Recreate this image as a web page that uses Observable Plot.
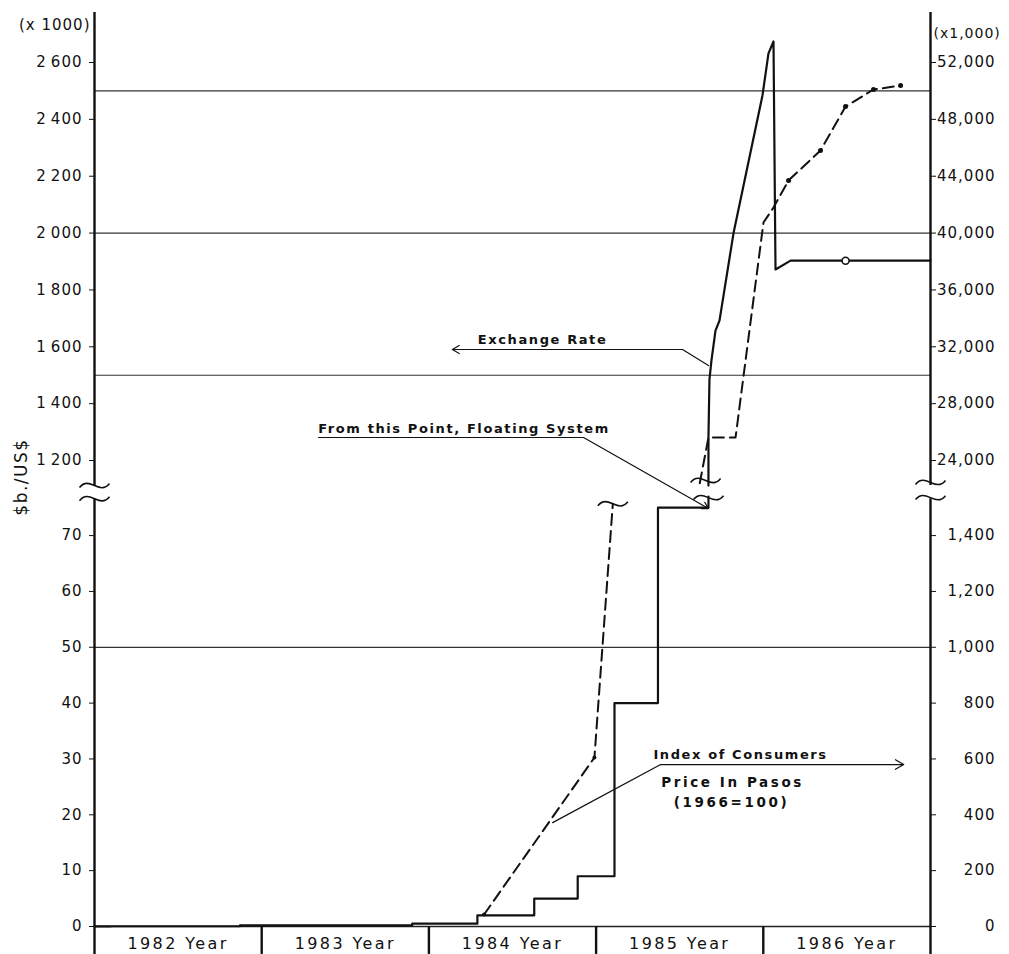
<!DOCTYPE html>
<html><head><meta charset="utf-8">
<script src="https://cdn.jsdelivr.net/npm/d3@7"></script>
<script src="https://cdn.jsdelivr.net/npm/@observablehq/plot@0.6"></script>
<style>
body{margin:0;background:#fff;}
#chart{position:relative;width:1009px;height:954px;font-family:"DejaVu Sans",sans-serif;color:#111;}
#chart svg{position:absolute;left:0;overflow:visible;}
#chart svg text{letter-spacing:1px;}
#chart svg g[font-size="13"] text{letter-spacing:1.6px;}
#chart svg g[font-size="13.5"] text{letter-spacing:2.6px;}
#chart svg g[font-size="16"] text{letter-spacing:2.4px;}
#ylabel{position:absolute;left:21px;top:477px;transform:translate(-50%,-50%) rotate(-90deg);font-size:17px;letter-spacing:1.5px;white-space:nowrap;}
</style></head><body><div id="chart"><div id="ylabel">$b./US$</div></div><script>
// ---- categories ----
const yearStarts = [1982, 1983, 1984, 1985, 1986];
const yearLabels = ["1982 Year", "1983 Year", "1984 Year", "1985 Year", "1986 Year"];

// ---- tick labels ----
const leftUpperTicks = [1200, 1400, 1600, 1800, 2000, 2200, 2400, 2600];      // $b/US$ (x 1000)
const rightUpperTicks = [24000, 28000, 32000, 36000, 40000, 44000, 48000, 52000]; // CPI (x 1,000)
const leftLowerTicks = [0, 10, 20, 30, 40, 50, 60, 70];
const rightLowerTicks = [0, 200, 400, 600, 800, 1000, 1200, 1400];
const upperGrid = [1500, 2000, 2500];
const lowerGrid = [50];

// ---- exchange rate ($b/US$, x 1000) ----
const exLowDates  = [1982.0, 1982.10, 1982.87, 1983.90, 1984.29, 1984.63, 1984.89, 1985.11, 1985.37, 1985.672, 1985.672];
const exLowValues = [0.025, 0.044, 0.2, 0.5, 2, 5, 9, 40, 75, 75, 77];
const exHighDates  = [1985.672, 1985.672, 1985.678, 1985.690, 1985.714, 1985.738, 1985.822, 1985.995, 1986.031, 1986.061, 1986.073, 1986.163, 1987.0];
const exHighValues = [1112, 1281, 1485, 1552, 1657, 1692, 2000, 2484, 2632, 2674, 1872, 1903, 1903];
const exCircleDates = [1986.492];
const exCircleValues = [1903];

// ---- consumer price index (1966=100), right axis units ----
const cpiLowDates  = [1984.33, 1984.99, 1985.10];
const cpiLowValues = [43, 605, 1514];
const cpiHighDates  = [1985.62, 1985.672, 1985.834, 1986.001, 1986.061, 1986.151, 1986.342, 1986.492, 1986.659, 1986.821];
const cpiHighValues = [22400, 25620, 25620, 40740, 41800, 43700, 45810, 48900, 50100, 50380];
const cpiHighMarked = [false, false, false, false, false, true, true, true, true, true];
const cpiFactor = 20; // right axis = 20 x left axis

// ---- axis breaks ----
const upperBreakX = [1982, 1987, 1985.655];
const upperBreakY = [1112, 1123, 1130];
const lowerBreakX = [1982, 1987, 1985.672, 1985.10];
const lowerBreakY = [76.6, 76.8, 76.8, 75.7];

// ---- annotations ----
const upperNotes = ["Exchange Rate", "From this Point, Floating System"];
const upperNoteX = [1984.68, 1984.21];
const upperNoteY = [1626, 1313];
const lowerNotes = ["Index of Consumers", "Price In Pasos", "(1966=100)"];
const lowerNoteX = [1985.864, 1985.816, 1985.81];
const lowerNoteY = [30.8, 25.8, 22.2];
const lowerNoteSize = [13, 13.5, 13.5];
const exLeader = {x: [1985.517, 1985.672], y: [1590.5, 1534], arrowTo: [1984.14, 1590.5]};
const floatUnderline = {x: [1983.34, 1984.925], y: 1281};
const floatArrow = {x1: 1984.925, y1: 1281, x2: 1985.672, y2: 1031};
const cpiArrow = {x1: 1985.386, x2: 1986.84, y: 29.0};
const cpiLeader = {x: [1985.386, 1984.74], y: [29.0, 18.6]};

// ---- helpers ----
const upDomain = [1108.6, 2775.9];
const lowDomain = [0, 77.0];
const fmtLeft = d => d3.format(",")(d).replace(",", "\u2009");
const fmtRight = d => d3.format(",")(d);
const tilde = {draw(ctx, size) {
  const r = Math.sqrt(size / Math.PI), a = r * 0.22;
  ctx.moveTo(-r, a * 0.6);
  ctx.bezierCurveTo(-r / 3, -a * 3.2, r / 3, a * 3.2, r, -a * 0.6);
}};
const idx = a => a.map((_, i) => i);

const common = {
  width: 1009, marginLeft: 94, marginRight: 79,
  x: {domain: [1982, 1987], axis: null},
  style: {background: "transparent", overflow: "visible", fontFamily: "DejaVu Sans, sans-serif", fontSize: "15px", color: "#111"}
};

// ---------- lower panel ----------
const low = Plot.plot({
  ...common,
  height: 458, marginTop: 0, marginBottom: 28,
  y: {domain: lowDomain, axis: null},
  marks: [
    Plot.ruleY(lowerGrid, {x1: 1982, x2: 1987, stroke: "#333", strokeWidth: 1.2}),
    Plot.ruleY([0], {x1: 1982, x2: 1987, stroke: "#222", strokeWidth: 1.5}),
    Plot.ruleX([1982, 1987], {y1: -5, y2: lowerBreakY[0], strokeWidth: 2.4, stroke: "#111"}),
    Plot.ruleX(yearStarts.slice(1), {y1: -5, y2: 0, strokeWidth: 2.4, stroke: "#111"}),
    Plot.axisY(leftLowerTicks, {anchor: "left", label: null, tickSize: 5, tickPadding: 7, tickFormat: fmtLeft, fontSize: 15}),
    Plot.axisY(rightLowerTicks.map(d => d / cpiFactor), {anchor: "right", label: null, tickSize: 5, tickFormat: () => ""}),
    Plot.text(rightLowerTicks, {x: 1987, y: d => d / cpiFactor, text: fmtRight, textAnchor: "end", dx: 65, fontSize: 15}),
    Plot.text(idx(yearStarts), {x: i => yearStarts[i] + 0.5, y: -3.1, text: i => yearLabels[i], fontSize: 16}),
    Plot.line(idx(exLowDates), {x: i => exLowDates[i], y: i => exLowValues[i], curve: "step-after", stroke: "#111", strokeWidth: 2.2}),
    Plot.line(idx(cpiLowDates), {x: i => cpiLowDates[i], y: i => cpiLowValues[i] / cpiFactor, stroke: "#111", strokeWidth: 2, strokeDasharray: "11,6"}),
    Plot.dot(idx(cpiLowDates).slice(0, 2), {x: i => cpiLowDates[i], y: i => cpiLowValues[i] / cpiFactor, r: 2, fill: "#111"}),
    Plot.dot(idx(lowerBreakX), {x: i => lowerBreakX[i], y: i => lowerBreakY[i], symbol: tilde, r: 15, fill: "none", stroke: "#111", strokeWidth: 1.6}),
    Plot.arrow([cpiArrow], {x1: "x1", x2: "x2", y1: "y", y2: "y", stroke: "#111", strokeWidth: 1.2, headLength: 12}),
    Plot.line(idx(cpiLeader.x), {x: i => cpiLeader.x[i], y: i => cpiLeader.y[i], stroke: "#111", strokeWidth: 1.2}),
    Plot.text([0], {x: lowerNoteX[0], y: lowerNoteY[0], text: () => lowerNotes[0], fontSize: lowerNoteSize[0], fontWeight: "bold"}),
    Plot.text([1, 2], {x: i => lowerNoteX[i], y: i => lowerNoteY[i], text: i => lowerNotes[i], fontSize: lowerNoteSize[1], fontWeight: "bold"})
  ]
});
low.style.top = "496px";
document.getElementById("chart").appendChild(low);

// ---------- upper panel ----------
const up = Plot.plot({
  ...common,
  height: 486, marginTop: 12, marginBottom: 0,
  y: {domain: upDomain, axis: null},
  marks: [
    Plot.ruleY(upperGrid, {x1: 1982, x2: 1987, stroke: "#333", strokeWidth: 1.2}),
    Plot.ruleX([1982, 1987], {y1: upperBreakY[0], y2: upDomain[1], strokeWidth: 2.4, stroke: "#111"}),
    Plot.axisY(leftUpperTicks, {anchor: "left", label: null, tickSize: 5, tickPadding: 7, tickFormat: fmtLeft, fontSize: 15}),
    Plot.axisY(rightUpperTicks.map(d => d / cpiFactor), {anchor: "right", label: null, tickSize: 5, tickFormat: () => ""}),
    Plot.text(rightUpperTicks, {x: 1987, y: d => d / cpiFactor, text: fmtRight, textAnchor: "end", dx: 65, fontSize: 15}),
    Plot.text(["(x 1000)"], {x: 1982, y: 2730, text: d => d, textAnchor: "end", dx: -4, fontSize: 15}),
    Plot.text(["(x1,000)"], {x: 1987, y: 2702, text: d => d, textAnchor: "start", dx: 3, fontSize: 14}),
    Plot.line(idx(exHighDates), {x: i => exHighDates[i], y: i => exHighValues[i], stroke: "#111", strokeWidth: 2.2}),
    Plot.dot(idx(exCircleDates), {x: i => exCircleDates[i], y: i => exCircleValues[i], r: 3.5, fill: "white", stroke: "#111", strokeWidth: 1.5}),
    Plot.line(idx(cpiHighDates), {x: i => cpiHighDates[i], y: i => cpiHighValues[i] / cpiFactor, stroke: "#111", strokeWidth: 2, strokeDasharray: "11,6"}),
    Plot.dot(idx(cpiHighDates).filter(i => cpiHighMarked[i]), {x: i => cpiHighDates[i], y: i => cpiHighValues[i] / cpiFactor, r: 2.5, fill: "#111"}),
    Plot.dot(idx(upperBreakX), {x: i => upperBreakX[i], y: i => upperBreakY[i], symbol: tilde, r: 15, fill: "none", stroke: "#111", strokeWidth: 1.6}),
    Plot.arrow([exLeader], {x1: d => d.x[0], y1: d => d.y[0], x2: d => d.arrowTo[0], y2: d => d.arrowTo[1], stroke: "#111", strokeWidth: 1.2, headLength: 10}),
    Plot.line(idx(exLeader.x), {x: i => exLeader.x[i], y: i => exLeader.y[i], stroke: "#111", strokeWidth: 1.2}),
    Plot.ruleY([floatUnderline.y], {x1: floatUnderline.x[0], x2: floatUnderline.x[1], stroke: "#111", strokeWidth: 1.2}),
    Plot.arrow([floatArrow], {x1: "x1", y1: "y1", x2: "x2", y2: "y2", stroke: "#111", strokeWidth: 1.2, headLength: 9}),
    Plot.text(idx(upperNotes), {x: i => upperNoteX[i], y: i => upperNoteY[i], text: i => upperNotes[i], fontSize: 13, fontWeight: "bold"})
  ]
});
up.style.top = "0px";
document.getElementById("chart").appendChild(up);
</script></body></html>
